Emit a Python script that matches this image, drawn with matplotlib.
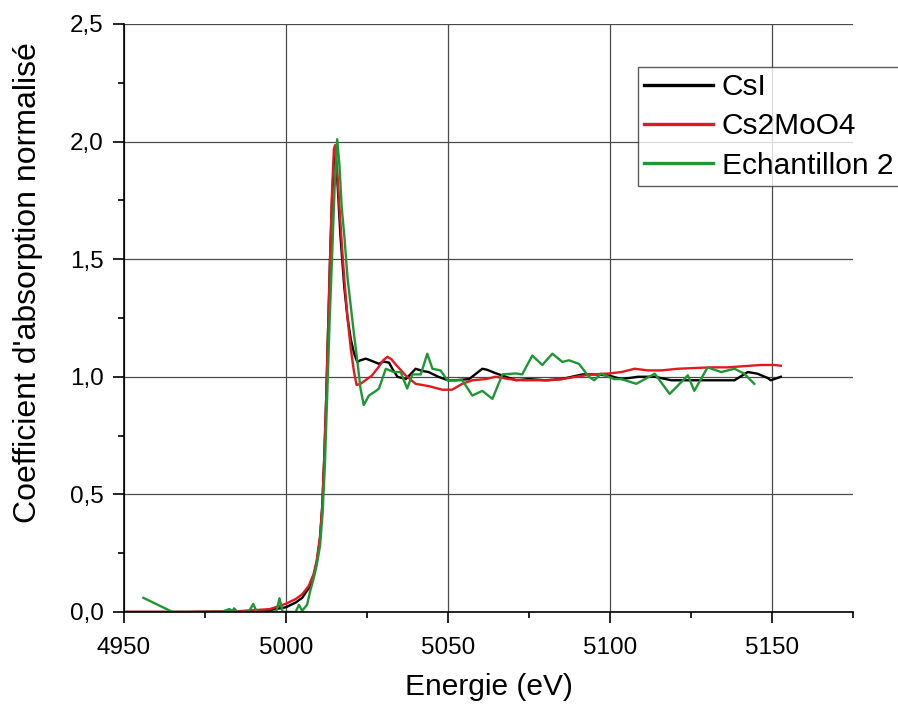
import matplotlib
matplotlib.use('Agg')
import matplotlib.pyplot as plt
from matplotlib.ticker import MultipleLocator, FuncFormatter

plt.rcParams['font.family'] = ['Liberation Sans', 'DejaVu Sans']

# CsI
csi_x = [4950, 4970, 4985, 4995, 5000, 5003, 5005, 5007, 5008.5, 5009.5, 5010.5, 5011.2,
         5011.8, 5012.4, 5013, 5013.6, 5014.2, 5014.8, 5015.3, 5016, 5016.8, 5018, 5019,
         5020, 5021, 5022, 5023, 5024.6, 5026, 5028.7, 5030, 5031.8, 5033, 5034.4, 5037,
         5040, 5042, 5044, 5047, 5050, 5052.4, 5056.5, 5060.6, 5062, 5064.7, 5067.8, 5071,
         5075, 5080, 5085, 5091.5, 5095.6, 5099.7, 5103.5, 5108.7, 5113.8, 5118.9, 5124,
         5129, 5134, 5138.4, 5142.5, 5145.5, 5148.6, 5149.6, 5152.7]
csi_y = [0.0, 0.0, 0.002, 0.008, 0.02, 0.04, 0.06, 0.1, 0.15, 0.21, 0.31, 0.45,
         0.65, 0.9, 1.2, 1.5, 1.75, 1.92, 1.95, 1.8, 1.6, 1.38, 1.25,
         1.16, 1.1, 1.063, 1.07, 1.077, 1.07, 1.055, 1.065, 1.06, 1.03, 1.0, 0.99,
         1.034, 1.025, 1.02, 1.0, 0.985, 0.985, 0.99, 1.034, 1.03, 1.015, 1.0, 0.985,
         0.99, 0.985, 0.99, 1.01, 1.01, 1.005, 0.99, 1.0, 1.0, 0.985, 0.985,
         0.985, 0.985, 0.985, 1.02, 1.013, 0.995, 0.985, 1.0]

# Cs2MoO4
cs2_x = [4950, 4970, 4985, 4995, 5000, 5003, 5005, 5007, 5008.5, 5009.5, 5010.5, 5011.2,
         5011.8, 5012.4, 5013, 5013.6, 5014.2, 5014.8, 5015.2, 5015.8, 5016.5, 5017.3,
         5018.2, 5019, 5020, 5021, 5021.8, 5023, 5024.5, 5026.5, 5028.5, 5030, 5031.3,
         5032.5, 5034, 5036.9, 5040, 5044.1, 5048.2, 5051.3, 5054.4, 5057.5, 5061.6,
         5064.7, 5068.8, 5072.9, 5077, 5081.2, 5085.3, 5089.4, 5094.5, 5099.7, 5103.5,
         5107.6, 5111.7, 5115.8, 5120.9, 5126, 5131.2, 5136.3, 5141.4, 5146.5, 5150.7,
         5152.7]
cs2_y = [0.0, 0.0, 0.003, 0.012, 0.035, 0.055, 0.075, 0.11, 0.16, 0.22, 0.32, 0.45,
         0.65, 0.9, 1.2, 1.5, 1.78, 1.97, 1.985, 1.88, 1.72, 1.55,
         1.38, 1.25, 1.12, 1.02, 0.965, 0.97, 0.985, 1.005, 1.04, 1.07, 1.085,
         1.075, 1.05, 1.006, 0.97, 0.96, 0.945, 0.945, 0.97, 0.985, 0.99,
         1.0, 0.99, 0.985, 0.985, 0.985, 0.99, 1.0, 1.01, 1.014, 1.02,
         1.034, 1.027, 1.027, 1.034, 1.037, 1.04, 1.04, 1.045, 1.05, 1.05,
         1.047]

# Echantillon 2
ech_x = [4956, 4965, 4980, 4982.5, 4983.5, 4984, 4985, 4988.5, 4989.9, 4991, 4997, 4998,
         4999, 5003, 5004, 5005, 5006.5, 5007.5, 5008.5, 5009.5, 5010.5, 5011.3, 5012,
         5012.8, 5013.5, 5014.2, 5015, 5015.8, 5016.5, 5017.2, 5018, 5019, 5020, 5021,
         5022, 5023, 5024, 5025.6, 5027.8, 5028.7, 5030.8, 5033.3, 5035.4, 5037.4, 5039,
         5041.6, 5043.6, 5045.2, 5047.7, 5049.8, 5054.4, 5057.5, 5060.6, 5063.7, 5066.8,
         5070.9, 5072.9, 5076, 5079.1, 5082.2, 5085.3, 5087.3, 5090.4, 5093.5, 5095.1,
         5097.2, 5101.3, 5103.5, 5108.1, 5113.8, 5118.4, 5124, 5126, 5130.1, 5134.3,
         5138.4, 5141.4, 5144.5]
ech_y = [0.06, 0.0, 0.0, 0.012, 0.005, 0.015, 0.0, 0.0, 0.034, 0.0, 0.0, 0.058,
         0.0, 0.0, 0.03, 0.005, 0.03, 0.09, 0.14, 0.2, 0.28, 0.42, 0.62,
         0.95, 1.25, 1.5, 1.8, 2.01, 1.9, 1.72, 1.6, 1.42, 1.3, 1.18,
         1.07, 0.95, 0.88, 0.92, 0.94, 0.95, 1.034, 1.02, 1.02, 0.95, 1.01,
         1.01, 1.098, 1.034, 1.027, 0.985, 0.985, 0.92, 0.94, 0.906, 1.01,
         1.014, 1.01, 1.09, 1.05, 1.098, 1.063, 1.07, 1.055, 1.0, 0.985,
         1.013, 0.99, 0.99, 0.97, 1.013, 0.927, 1.006, 0.94, 1.04, 1.02,
         1.034, 1.013, 0.97]

fig = plt.figure(figsize=(8.98, 7.05), dpi=100)
ax = fig.add_axes([0.138, 0.132, 0.812, 0.834])

ax.plot(csi_x, csi_y, color='black', lw=1.7, label='CsI')
ax.plot(cs2_x, cs2_y, color='#e3191f', lw=1.7, label='Cs2MoO4')
ax.plot(ech_x, ech_y, color='#1e9636', lw=1.7, label='Echantillon 2')

ax.set_xlim(4950, 5175)
ax.set_ylim(0, 2.5)
ax.xaxis.set_major_locator(MultipleLocator(50))
ax.xaxis.set_minor_locator(MultipleLocator(25))
ax.yaxis.set_major_locator(MultipleLocator(0.5))
ax.yaxis.set_minor_locator(MultipleLocator(0.25))
ax.yaxis.set_major_formatter(FuncFormatter(lambda v, p: f'{v:.1f}'.replace('.', ',')))

ax.grid(True, which='major', color='#4a4a4a', lw=0.9)
ax.set_axisbelow(True)
for s in ('top', 'right'):
    ax.spines[s].set_visible(False)
for s in ('left', 'bottom'):
    ax.spines[s].set_linewidth(1.2)
ax.tick_params(which='major', direction='out', length=8, width=1.2, labelsize=17.5)
ax.tick_params(which='minor', direction='out', length=4.5, width=1.2)
ax.tick_params(axis='x', which='major', pad=10)
ax.tick_params(axis='y', which='major', pad=6.5)

fig.text(489 / 898, 1 - 687 / 705, 'Energie (eV)', fontsize=21.5,
         ha='center', va='center')
fig.text(28 / 898, 1 - 283 / 705, "Coefficient d'absorption normalisé",
         fontsize=23, rotation=90, ha='center', va='center')

leg = ax.legend(loc='upper left', bbox_to_anchor=(638 / 898, 1 - 67 / 705),
                bbox_transform=fig.transFigure, fontsize=21.5, frameon=True,
                fancybox=False, handlelength=2.3, borderpad=0.2,
                labelspacing=0.38, handletextpad=0.3, borderaxespad=0)
leg.get_frame().set_edgecolor('#333333')
leg.get_frame().set_linewidth(1.0)
for line in leg.get_lines():
    line.set_linewidth(2.4)

fig.savefig('out.png', dpi=100)
